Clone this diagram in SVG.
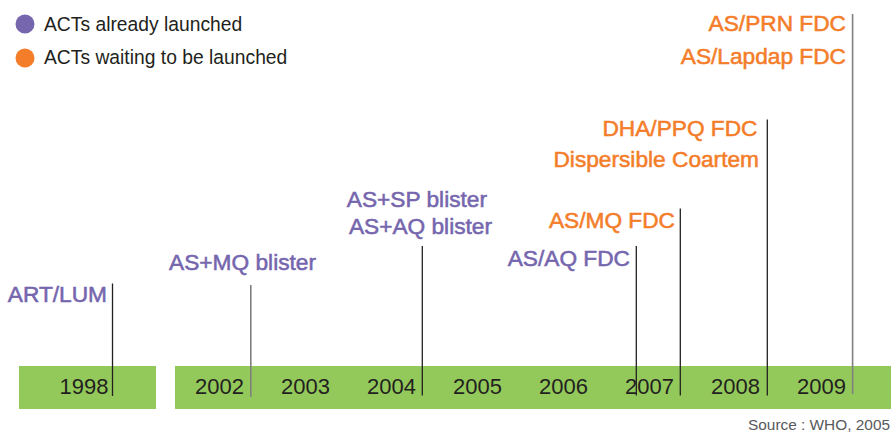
<svg xmlns="http://www.w3.org/2000/svg" width="891" height="433" viewBox="0 0 891 433">
<style>
.lbl{font-family:"Liberation Sans",Arial,sans-serif;font-size:22.7px;text-anchor:end;stroke-width:0.55px}
.p{fill:#7566AE;stroke:#7566AE}
.o{fill:#F47D2A;stroke:#F47D2A}
.yr{font-family:"Liberation Sans",Arial,sans-serif;font-size:22px;fill:#231F20;text-anchor:middle}
.leg{font-family:"Liberation Sans",Arial,sans-serif;font-size:19.3px;fill:#231F20}
.bar{fill:#93C95B}
.ln{stroke:#231F20;stroke-width:1.3;fill:none}
.lg{stroke:#808080;stroke-width:1.6;fill:none}
</style>
<rect width="891" height="433" fill="#ffffff"/>
<g id="legend">
<circle cx="25" cy="24" r="9.5" fill="#7566AE"/>
<text class="leg" x="44" y="31">ACTs already launched</text>
<circle cx="25" cy="58" r="9.5" fill="#F47D2A"/>
<text class="leg" x="44" y="64">ACTs waiting to be launched</text>
</g>
<g id="timeline">
<rect class="bar" x="19" y="366" width="137" height="43"/>
<rect class="bar" x="175" y="366" width="716" height="43"/>
<text class="yr" x="84" y="394">1998</text>
<text class="yr" x="219.5" y="394">2002</text>
<text class="yr" x="305.5" y="394">2003</text>
<text class="yr" x="391.5" y="394">2004</text>
<text class="yr" x="477.5" y="394">2005</text>
<text class="yr" x="563.5" y="394">2006</text>
<text class="yr" x="649.5" y="394">2007</text>
<text class="yr" x="735.5" y="394">2008</text>
<text class="yr" x="821.5" y="394">2009</text>
</g>
<g id="connectors">
<line class="ln" x1="112.5" y1="283.5" x2="112.5" y2="396"/>
<line class="lg" x1="250.8" y1="285" x2="250.8" y2="397"/>
<line class="ln" x1="422.3" y1="246" x2="422.3" y2="395.5"/>
<line class="ln" x1="636.3" y1="246" x2="636.3" y2="395.5"/>
<line class="ln" x1="680.3" y1="208.5" x2="680.3" y2="395.5"/>
<line class="ln" x1="767.3" y1="119.5" x2="767.3" y2="395.5"/>
<line class="lg" x1="852.6" y1="14" x2="852.6" y2="394"/>
</g>
<g id="n-artlum"><text class="lbl p" x="107" y="301.5">ART/LUM</text></g>
<g id="n-asmq-blister"><text class="lbl p" x="316" y="269.5">AS+MQ blister</text></g>
<g id="n-assp-asaq-blister">
<text class="lbl p" x="487" y="207">AS+SP blister</text>
<text class="lbl p" x="492" y="233.5">AS+AQ blister</text>
</g>
<g id="n-asaq-fdc"><text class="lbl p" x="630" y="266">AS/AQ FDC</text></g>
<g id="n-asmq-fdc"><text class="lbl o" x="675" y="228">AS/MQ FDC</text></g>
<g id="n-dha-coartem">
<text class="lbl o" x="757.5" y="136">DHA/PPQ FDC</text>
<text class="lbl o" x="759" y="167">Dispersible Coartem</text>
</g>
<g id="n-prn-lapdap">
<text class="lbl o" x="846" y="31">AS/PRN FDC</text>
<text class="lbl o" x="846" y="64">AS/Lapdap FDC</text>
</g>
<g id="source"><text x="748" y="430" font-family="Liberation Sans, Arial, sans-serif" font-size="15.4" fill="#58595B">Source : WHO, 2005</text></g>
</svg>
